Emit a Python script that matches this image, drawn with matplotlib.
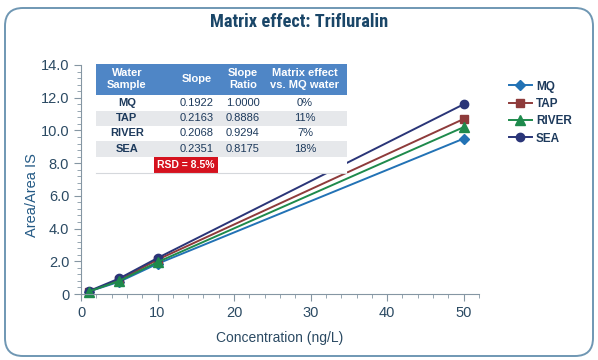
import matplotlib
matplotlib.use('Agg')
import matplotlib.pyplot as plt
from matplotlib import font_manager
from matplotlib.patches import Rectangle, FancyBboxPatch
from matplotlib.ticker import MultipleLocator

# Werte
conc = [1, 5, 10, 50]
mq = [0.15, 0.75, 1.85, 9.5]
tap = [0.15, 0.85, 2.1, 10.7]
river = [0.15, 0.8, 1.95, 10.2]
sea = [0.17, 0.95, 2.2, 11.6]

# Tabelle
tab_header = ['Water\nSample', 'Slope', 'Slope\nRatio', 'Matrix effect\nvs. MQ water']
tab_sample = ['MQ', 'TAP', 'RIVER', 'SEA']
tab_slope = ['0.1922', '0.2163', '0.2068', '0.2351']
tab_ratio = ['1.0000', '0.8886', '0.9294', '0.8175']
tab_effect = ['0%', '11%', '7%', '18%']
rsd_text = 'RSD = 8.5%'

# schmale Schrift, falls vorhanden
narrow = 'DejaVu Sans'
for cand in ['Liberation Sans Narrow', 'Roboto Condensed', 'Open Sans Condensed']:
    try:
        font_manager.findfont(cand, fallback_to_default=False)
        narrow = cand
        break
    except Exception:
        pass

plt.rcParams['font.family'] = ['Liberation Sans', 'DejaVu Sans']

W, H = 598, 360
navy = '#1d3a5c'
axis_col = '#8596a3'
txt_col = '#2b4a63'

fig = plt.figure(figsize=(W / 100, H / 100), dpi=100)
fig.patch.set_facecolor('white')

def fx(px):
    return px / W

def fy(py):
    return 1 - py / H

# abgerundeter Rahmen
fig.add_artist(FancyBboxPatch((fx(5), fy(356)), fx(588), 348 / H,
                              boxstyle='round,pad=0,rounding_size=0.03',
                              transform=fig.transFigure, fc='none',
                              ec='#6f97b3', lw=1.4, mutation_aspect=W / H))

fig.text(0.5, fy(22), 'Matrix effect: Trifluralin', ha='center', va='center',
         fontsize=13.2, fontweight='bold', color='#1a4668', family=[narrow, 'DejaVu Sans'])

ax = fig.add_axes([fx(81), fy(294), fx(479) - fx(81), (294 - 65) / H])
series = [('MQ', mq, '#2272b5', 'D', 5.5),
          ('TAP', tap, '#8e3b3b', 's', 6),
          ('RIVER', river, '#1e8a4c', '^', 6.5),
          ('SEA', sea, '#2a3578', 'o', 6)]
handles = {}
for name, vals, c, m, ms in [series[0], series[1], series[3], series[2]]:
    h, = ax.plot(conc, vals, color=c, marker=m, markersize=ms, lw=1.4,
                 label=name, clip_on=False)
    handles[name] = h

ax.set_xlim(0, 52)
ax.set_ylim(0, 14)
ax.xaxis.set_major_locator(MultipleLocator(10))
ax.xaxis.set_minor_locator(MultipleLocator(2))
ax.yaxis.set_major_locator(MultipleLocator(2))
ax.yaxis.set_minor_locator(MultipleLocator(0.4))
ax.yaxis.set_major_formatter(plt.FuncFormatter(lambda v, p: '0' if v == 0 else f'{v:.1f}'))
for s in ['top', 'right']:
    ax.spines[s].set_visible(False)
for s in ['left', 'bottom']:
    ax.spines[s].set_color(axis_col)
ax.tick_params(which='both', colors=axis_col, labelcolor=txt_col, labelsize=10.5)
ax.tick_params(which='major', length=5)
ax.tick_params(which='minor', length=3)
ax.set_xlabel('Concentration (ng/L)', fontsize=10, color=txt_col, labelpad=8)
ax.set_ylabel('Area/Area IS', fontsize=10.5, color='#245a85')
ax.yaxis.set_label_coords(-0.105, 0.43)

fig.legend([handles[n] for n in tab_sample], tab_sample, loc='upper left',
           bbox_to_anchor=(fx(498), fy(70)), frameon=False, handlelength=2.0,
           labelspacing=0.45, handletextpad=0.3,
           prop={'weight': 'bold', 'size': 8.5}, labelcolor=navy)

# Tabelle zeichnen
left, right = 96, 347
col_x = [127, 197, 243, 305]
row_y = [95, 111, 126, 141, 157, 173]
fig.add_artist(Rectangle((fx(left), fy(row_y[-1])), fx(right - left), (row_y[-1] - 64) / H,
                         transform=fig.transFigure, fc='white', ec='none', zorder=3))
fig.add_artist(Rectangle((fx(left), fy(95)), fx(right - left), 31 / H,
                         transform=fig.transFigure, fc='#4f86c6', ec='none', zorder=4))
for i, lab in enumerate(tab_header):
    fig.text(fx(col_x[i]), fy(79.5), lab, ha='center', va='center', fontsize=8,
             fontweight='bold', color='white', linespacing=1.25, zorder=5)
for r in range(4):
    y0, y1 = row_y[r], row_y[r + 1]
    if r % 2 == 1:
        fig.add_artist(Rectangle((fx(left), fy(y1)), fx(right - left), (y1 - y0) / H,
                                 transform=fig.transFigure, fc='#e6e8eb', ec='none', zorder=4))
    yc = fy((y0 + y1) / 2)
    fig.text(fx(col_x[0]), yc, tab_sample[r], ha='center', va='center', fontsize=8,
             fontweight='bold', color=navy, zorder=5)
    for j, vals in enumerate([tab_slope, tab_ratio, tab_effect]):
        fig.text(fx(col_x[j + 1]), yc, vals[r], ha='center', va='center', fontsize=8,
                 color=navy, zorder=5)
fig.add_artist(Rectangle((fx(154), fy(173)), fx(64), 16 / H,
                         transform=fig.transFigure, fc='#d5121e', ec='none', zorder=5))
fig.text(fx(186), fy(165), rsd_text, ha='center', va='center', fontsize=7.5,
         fontweight='bold', color='white', zorder=6)
fig.add_artist(plt.Line2D([fx(left), fx(right)], [fy(173), fy(173)],
                          transform=fig.transFigure, color='#d5d8dc', lw=0.8, zorder=5))

plt.savefig('out.png', dpi=100)
